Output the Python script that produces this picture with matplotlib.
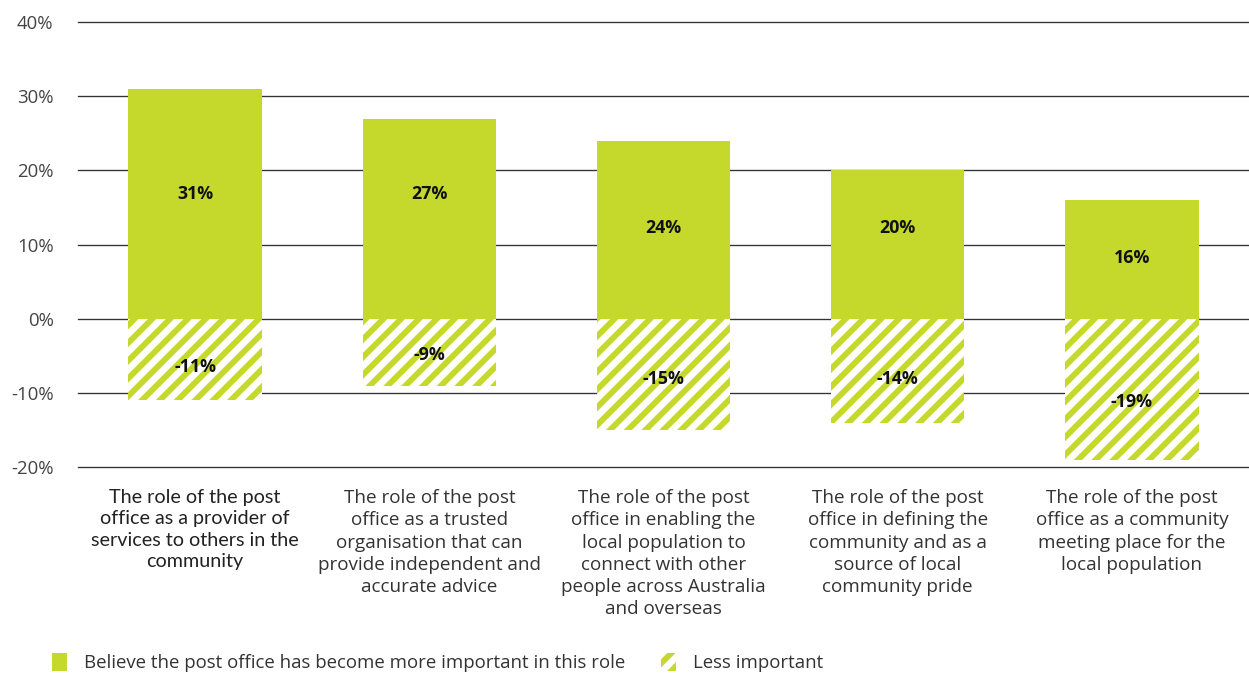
import matplotlib.pyplot as plt
from matplotlib.patches import Patch

# roles asked about in the survey
roles = [
    "The role of the post\noffice as a provider of\nservices to others in the\ncommunity",
    "The role of the post\noffice as a trusted\norganisation that can\nprovide independent and\naccurate advice",
    "The role of the post\noffice in enabling the\nlocal population to\nconnect with other\npeople across Australia\nand overseas",
    "The role of the post\noffice in defining the\ncommunity and as a\nsource of local\ncommunity pride",
    "The role of the post\noffice as a community\nmeeting place for the\nlocal population",
]
more_important = [31, 27, 24, 20, 16]
less_important = [-11, -9, -15, -14, -19]
y_ticks = [40, 30, 20, 10, 0, -10, -20]

# where the value labels sit inside the bars
pos_lab_up = [16.8, 16.8, 12.3, 12.3, 8.2]
pos_lab_down = [-6.5, -4.9, -8.1, -8.1, -11.2]

verde = '#C5D92D'
plt.rcParams['font.family'] = ['Open Sans', 'DejaVu Sans']
plt.rcParams['hatch.linewidth'] = 3.0

fig = plt.figure(figsize=(1249 / 160, 673 / 160), dpi=160)
ax = fig.add_axes([0.0625, 0.306, 0.9375, 0.661])

x = list(range(len(roles)))
ax.bar(x, more_important, width=0.57, color=verde, linewidth=0, zorder=2)
ax.bar(x, less_important, width=0.57, color=verde, edgecolor='white',
       hatch='///', linewidth=0, zorder=2)

for i in x:
    ax.text(i, pos_lab_up[i], f"{more_important[i]}%", ha='center', va='center',
            fontsize=8.0, fontweight='bold', color='#111111', zorder=3)
    ax.text(i, pos_lab_down[i], f"{less_important[i]}%", ha='center', va='center',
            fontsize=8.0, fontweight='bold', color='#111111', zorder=3)

ax.set_xlim(-0.5, 4.5)
ax.set_ylim(-20, 40)
ax.set_yticks(y_ticks)
ax.set_yticklabels([f"{t}%" for t in y_ticks], fontsize=8.4, color='#444444')
for t in y_ticks:
    ax.axhline(t, color='#333333', linewidth=0.6, zorder=1, clip_on=False)

ax.set_xticks(x)
ax.set_xticklabels(roles, fontsize=8.5, color='#333333', linespacing=1.3,
                   va='top')
ax.get_xticklabels()[0].set_family('Lato')
ax.get_xticklabels()[0].set_fontsize(8.9)
ax.get_xticklabels()[0].set_color('#222222')
ax.tick_params(axis='both', length=0)
ax.tick_params(axis='y', pad=11)
ax.tick_params(axis='x', pad=10)
for s in ax.spines.values():
    s.set_visible(False)

handles = [
    Patch(facecolor=verde, linewidth=0),
    Patch(facecolor=verde, edgecolor='white', hatch='///', linewidth=0),
]
fig.legend(handles, ["Believe the post office has become more important in this role",
                     "Less important"],
           loc='lower left', bbox_to_anchor=(0.028, -0.024), ncol=2, frameon=False,
           fontsize=8.4, labelcolor='#333333', handlelength=0.82, handleheight=1.15,
           handletextpad=0.9, columnspacing=1.9)

fig.savefig('out.png', dpi=160)
